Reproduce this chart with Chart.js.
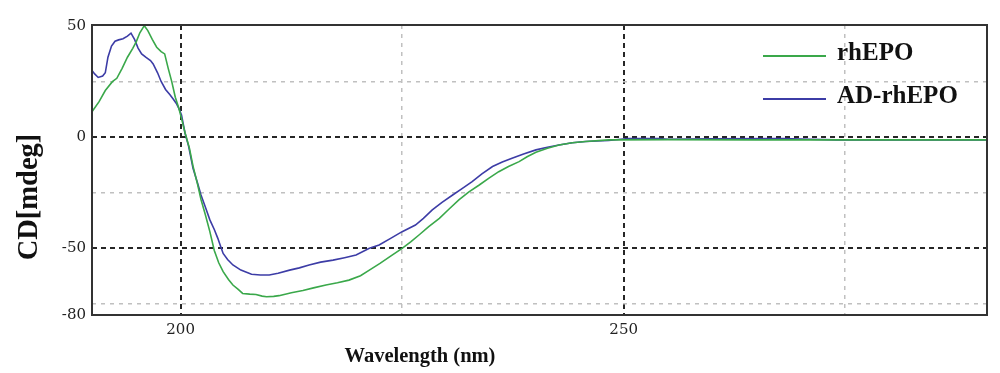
<!DOCTYPE html>
<html>
<head>
<meta charset="utf-8">
<script src="https://cdn.jsdelivr.net/npm/chart.js@4"></script>
<style>
  html, body { margin: 0; padding: 0; background: #fff; }
  #wrap { width: 1000px; height: 373px; }
</style>
</head>
<body>
<div id="wrap"><canvas id="cdChart" width="1000" height="373"></canvas></div>
<script>
// rhEPO (green)
const rhepoWl = [190.0, 190.8, 191.5, 192.3, 192.8, 193.4, 194.0, 194.6, 195.0, 195.4, 195.9, 196.3, 196.8, 197.3, 197.8, 198.2, 198.6, 199.0, 199.4, 199.8,
  200.1, 200.5, 201.0, 201.4, 201.9, 202.3, 202.8, 203.3, 203.8, 204.3, 204.8, 205.4, 205.9, 206.5, 207.0, 207.8, 208.5, 209.2, 209.7, 210.5,
  211.1, 212.5, 213.8, 215.0, 216.4, 217.7, 219.0, 220.3, 221.3, 222.5, 223.7, 225.0, 226.0, 226.9, 228.0, 229.2, 230.3, 231.4, 232.5, 233.7,
  234.8, 235.9, 237.0, 238.2, 239.1, 240.1, 241.4, 242.7, 244.2, 245.7, 248.3, 255, 265, 275, 291];
const rhepoCd = [11.5, 16, 21, 25, 26.5, 31, 36, 40, 43, 47, 50.2, 48, 44, 40.5, 38.5, 37.5, 31, 25, 18, 13,
  8.5, 2, -5, -13, -21, -28, -35, -42.5, -51, -56.5, -60.5, -64, -66.5, -68.5, -70.3, -70.6, -70.8, -71.5, -71.8, -71.6,
  -71.3, -70, -69, -67.8, -66.5, -65.5, -64.3, -62.3, -59.8, -56.8, -53.5, -50, -47, -44, -40.2, -36.5, -32.3, -28.2, -24.7, -21.5,
  -18.4, -15.5, -13.2, -11, -8.8, -6.8, -5, -3.5, -2.5, -1.9, -1.2, -1.1, -1.2, -1.2, -1.2];

// AD-rhEPO (blue)
const adWl = [190.0, 190.3, 190.7, 191.2, 191.5, 191.8, 192.2, 192.6, 193.0, 193.5, 194.0, 194.4, 194.8, 195.2, 195.6, 196.1, 196.6, 196.9, 197.4, 197.8,
  198.3, 198.8, 199.2, 199.5, 199.8, 200.1, 200.5, 200.9, 201.4, 201.9, 202.3, 202.8, 203.3, 203.8, 204.2, 204.5, 204.8, 205.3, 205.9, 206.8,
  208.0, 209.0, 210.0, 211.0, 212.3, 213.4, 214.5, 215.8, 217.2, 218.5, 219.8, 221.3, 222.4, 223.7, 225.0, 226.5, 227.4, 228.4, 229.5, 230.7,
  231.8, 232.9, 234.0, 235.2, 236.3, 237.4, 238.7, 240.1, 241.4, 242.7, 244.2, 245.7, 248.3, 250.5, 254.0, 255.0, 260, 268, 271, 274, 291];
const adCd = [30, 28.5, 26.9, 27.5, 29, 36, 41, 43.2, 43.8, 44.3, 45.5, 46.8, 44, 40.1, 37.5, 35.9, 34.5, 33, 29, 25.1,
  21.5, 19.1, 17, 15.3, 13, 10, 1.8, -4, -14, -20.5, -26, -31.5, -37.2, -41.5, -45.5, -49, -52.3, -55, -57.5, -59.8,
  -61.7, -62, -62, -61.2, -59.8, -58.8, -57.5, -56.2, -55.3, -54.2, -53, -50, -48.5, -45.5, -42.5, -39.5, -36.5, -32.7, -29.3, -26,
  -23, -20, -16.5, -13.2, -11.2, -9.5, -7.5, -5.7, -4.5, -3.5, -2.5, -1.9, -1.5, -0.6, -0.6, -0.9, -0.7, -0.6, -0.9, -1.2, -1.2];

const xTicks = [200, 225, 250, 275];
const xLabels = [200, 250];
const yTicks = [-80, -75, -50, -25, 0, 25, 50];
const yLabels = [-80, -50, 0, 50];
const majorLines = [200, 250, 0, -50];

const toPoints = (xs, ys) => xs.map((x, i) => ({ x: x, y: ys[i] }));

const gridColor = ctx => {
  const v = ctx.tick.value;
  if (v === -80 || v === 50) return 'rgba(0,0,0,0)';
  return majorLines.includes(v) ? '#262626' : '#c0c0c0';
};
const gridWidth = ctx => majorLines.includes(ctx.tick.value) ? 2 : 1.5;
const gridDash = ctx => majorLines.includes(ctx.tick && ctx.tick.value) ? [5, 4] : [4, 5];

// box round the plot, legend and axis titles
const extras = {
  id: 'extras',
  afterDraw(chart) {
    const { ctx, chartArea: a } = chart;
    ctx.save();
    ctx.strokeStyle = '#333';
    ctx.lineWidth = 2;
    ctx.strokeRect(a.left, a.top, a.right - a.left, a.bottom - a.top);

    // legend
    ctx.font = 'bold 25px "Liberation Serif"';
    ctx.textBaseline = 'middle';
    ctx.textAlign = 'left';
    chart.data.datasets.forEach((ds, i) => {
      const y = a.top + 31 + i * 43;
      ctx.strokeStyle = ds.borderColor;
      ctx.lineWidth = 2;
      ctx.beginPath();
      ctx.moveTo(a.right - 224, y);
      ctx.lineTo(a.right - 161, y);
      ctx.stroke();
      ctx.fillStyle = '#111';
      ctx.fillText(ds.label, a.right - 150, y - 2);
    });

    // axis titles
    ctx.fillStyle = '#111';
    ctx.textAlign = 'center';
    ctx.font = 'bold 20.5px "Liberation Serif"';
    ctx.fillText('Wavelength (nm)', 420, 357);
    ctx.translate(30, 197);
    ctx.rotate(-Math.PI / 2);
    ctx.font = 'bold 28.5px "Liberation Serif"';
    ctx.fillText('CD[mdeg]', 0, 0);
    ctx.restore();
  }
};

new Chart(document.getElementById('cdChart'), {
  type: 'line',
  data: {
    datasets: [
      {
        label: 'rhEPO',
        data: toPoints(rhepoWl, rhepoCd),
        borderColor: '#3aa84a',
        borderWidth: 1.6,
        pointRadius: 0,
        fill: false
      },
      {
        label: 'AD-rhEPO',
        data: toPoints(adWl, adCd),
        borderColor: '#3c3ca6',
        borderWidth: 1.6,
        pointRadius: 0,
        fill: false
      }
    ]
  },
  options: {
    responsive: false,
    animation: false,
    devicePixelRatio: 1,
    layout: { padding: { top: 25, right: 13, left: 0, bottom: 0 } },
    plugins: { legend: { display: false }, tooltip: { enabled: false } },
    scales: {
      x: {
        type: 'linear',
        min: 190,
        max: 291,
        afterFit: s => { s.height = 58; },
        afterBuildTicks: s => { s.ticks = xTicks.map(v => ({ value: v })); },
        ticks: {
          callback: v => xLabels.includes(v) ? String(v) : '',
          font: { family: 'DejaVu Serif', size: 15 },
          color: '#222',
          padding: 6,
          maxRotation: 0
        },
        grid: { color: gridColor, lineWidth: gridWidth, drawTicks: false },
        border: { display: false, dash: gridDash }
      },
      y: {
        min: -80,
        max: 50.5,
        afterFit: s => { s.width = 92; },
        afterBuildTicks: s => { s.ticks = yTicks.map(v => ({ value: v })); },
        ticks: {
          callback: v => yLabels.includes(v) ? String(v) : '',
          font: { family: 'DejaVu Serif', size: 15 },
          color: '#222',
          padding: 6
        },
        grid: { color: gridColor, lineWidth: gridWidth, drawTicks: false },
        border: { display: false, dash: gridDash }
      }
    }
  },
  plugins: [extras]
});
</script>
</body>
</html>
